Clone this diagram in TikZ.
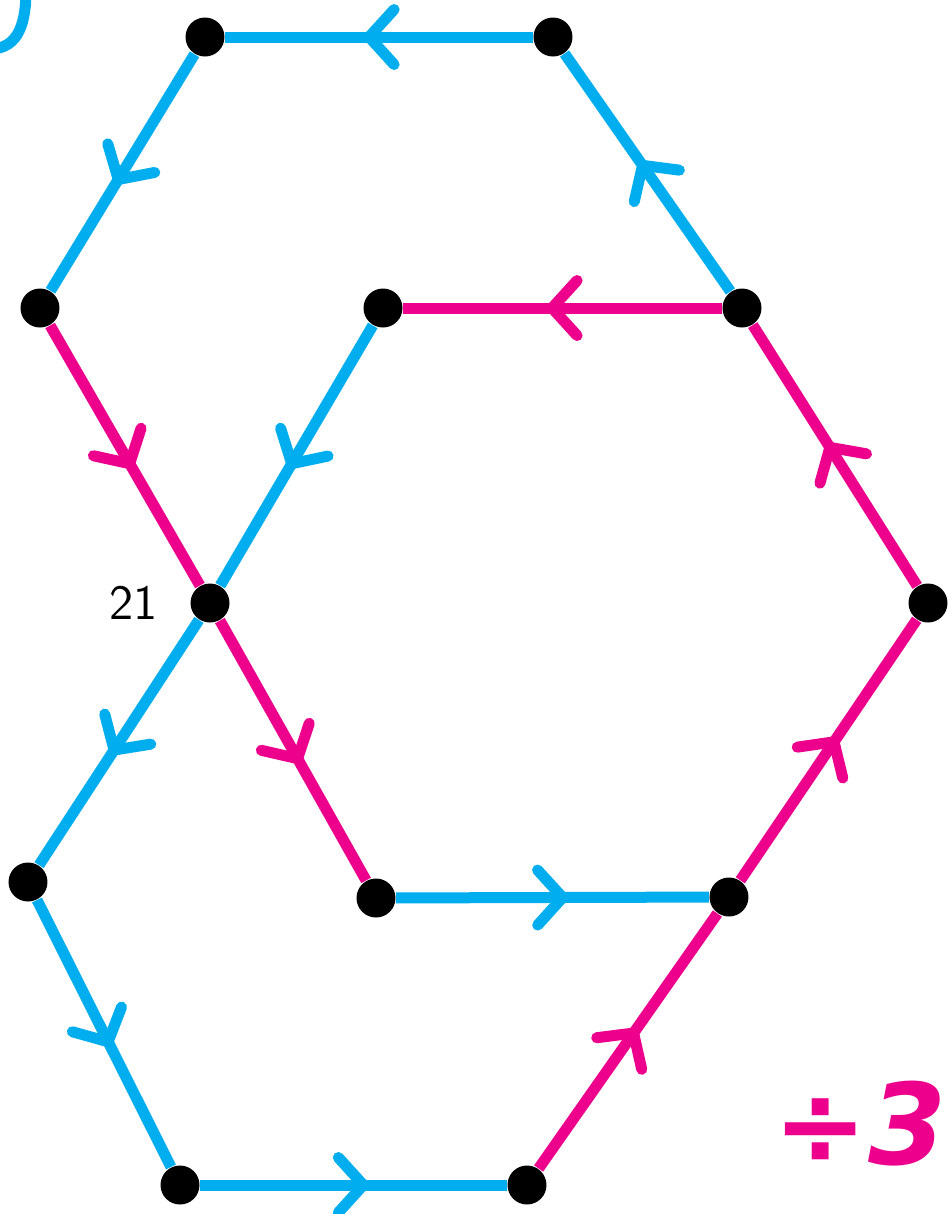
\documentclass[tikz,border=0pt]{standalone}
\usepackage{fontspec}
\newfontfamily\dvsans{DejaVu Sans}
\usetikzlibrary{arrows.meta,decorations.markings,backgrounds,positioning}
\definecolor{azzurro}{RGB}{0,174,239}
\definecolor{fucsia}{RGB}{236,0,140}
\tikzset{
  punto/.style={circle,fill=black,inner sep=0pt,minimum size=0.39cm},
  lato/.style={line width=0.11cm,postaction={decorate},
    decoration={markings,mark=at position 0.55 with {\arrow{Straight Barb[length=0.25cm,width=0.55cm,round]}}}},
}
\begin{document}
\begin{tikzpicture}
    \useasboundingbox (0,0) rectangle (9.49,-12.14);

    %vertici
    \node[punto] (A) at (2.05,-0.37) {};
    \node[punto] (B) at (5.53,-0.37) {};
    \node[punto] (C) at (0.40,-3.08) {};
    \node[punto] (D) at (3.83,-3.08) {};
    \node[punto] (E) at (7.42,-3.08) {};
    \node[punto] (F) at (2.10,-6.03) {};
    \node[punto] (G) at (9.28,-6.03) {};
    \node[punto] (H) at (0.28,-8.82) {};
    \node[punto] (I) at (3.76,-8.98) {};
    \node[punto] (J) at (7.29,-8.97) {};
    \node[punto] (K) at (1.80,-11.85) {};
    \node[punto] (L) at (5.27,-11.85) {};

    %lati azzurri e fucsia
    \begin{scope}[on background layer]
        \draw[lato,azzurro] (B) -- (A);
        \draw[lato,azzurro] (A) -- (C);
        \draw[lato,azzurro] (E) -- (B);
        \draw[lato,azzurro] (D) -- (F);
        \draw[lato,azzurro] (F) -- (H);
        \draw[lato,azzurro] (H) -- (K);
        \draw[lato,azzurro] (K) -- (L);
        \draw[lato,azzurro] (I) -- (J);
        \draw[lato,fucsia] (E) -- (D);
        \draw[lato,fucsia] (C) -- (F);
        \draw[lato,fucsia] (F) -- (I);
        \draw[lato,fucsia] (G) -- (E);
        \draw[lato,fucsia] (J) -- (G);
        \draw[lato,fucsia] (L) -- (J);
        %pezzo tagliato in alto
        \draw[azzurro,line width=0.11cm,line cap=round] (-0.1,-0.49) .. controls (0.2,-0.49) and (0.26,-0.2) .. (0.26,0.1);
    \end{scope}

    %scritte
    \node[left=0.2cm of F,font=\sffamily\fontsize{14}{14}\selectfont] (n21) {21};
    \node[fucsia,font=\dvsans\bfseries\itshape\fontsize{32}{32}\selectfont] (div) at (8.6,-11.24) {÷3};
\end{tikzpicture}
\end{document}
